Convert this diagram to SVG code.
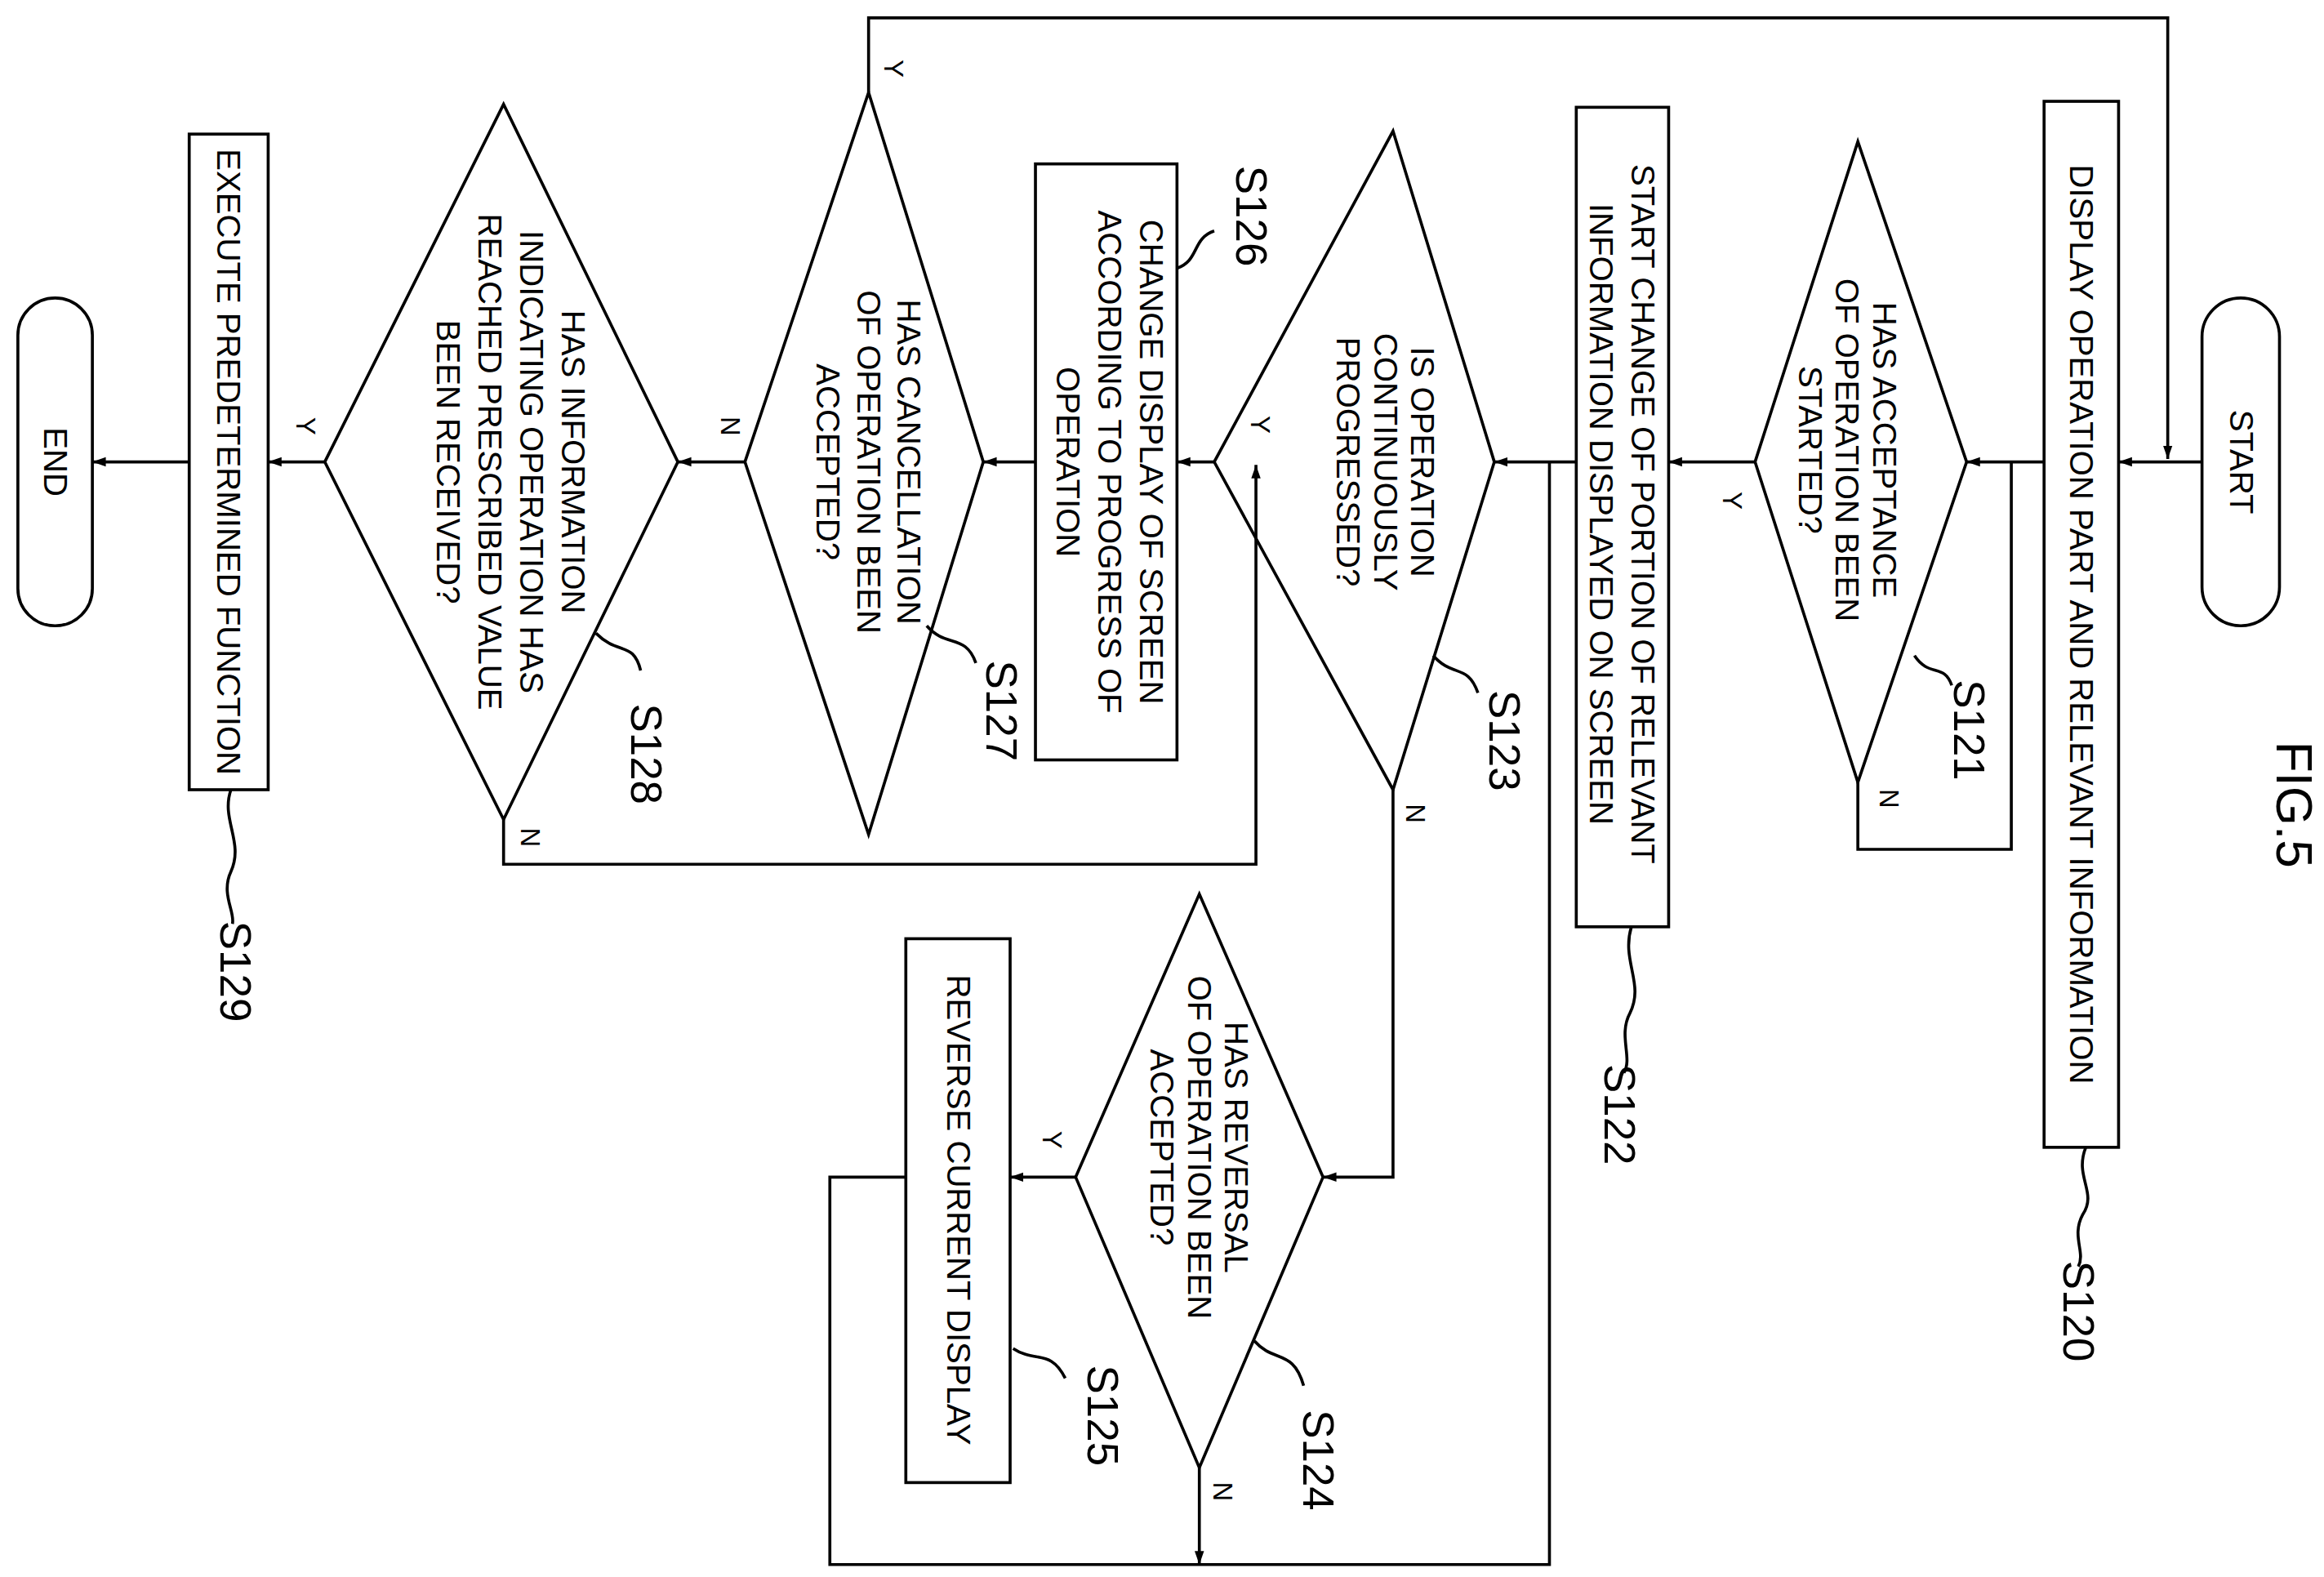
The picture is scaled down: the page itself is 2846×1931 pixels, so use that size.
<svg xmlns="http://www.w3.org/2000/svg" width="2846" height="1931" viewBox="0 0 2846 1931">
<style>
.s{fill:none;stroke:#000;stroke-width:2}
.t{font-family:"Liberation Sans",sans-serif;font-size:22px;text-anchor:middle;dominant-baseline:central}
.l{font-family:"Liberation Sans",sans-serif;font-size:29px;text-anchor:middle;dominant-baseline:central}
.yn{font-family:"Liberation Sans",sans-serif;font-size:18px;text-anchor:middle;dominant-baseline:central}
</style>
<defs><marker id="a" viewBox="0 0 10 10" refX="10" refY="5" markerWidth="9" markerHeight="9" markerUnits="userSpaceOnUse" orient="auto"><path d="M0,1.5 L10,5 L0,8.5z"/></marker></defs>
<rect width="2846" height="1931" fill="#fff"/>
<g transform="scale(1.8245)">
<g id="fig"><text class="l" style="font-size:34px" transform="translate(1540,540) rotate(90)">FIG.5</text></g>
<g id="start"><rect class="s" x="1478" y="200" width="52" height="220" rx="26"/><text class="t" transform="translate(1504,310) rotate(90)">START</text></g>
<g id="S120"><rect class="s" x="1372" y="68" width="50" height="702"/><text class="t" transform="translate(1397,419) rotate(90)">DISPLAY OPERATION PART AND RELEVANT INFORMATION</text>
<path class="s" d="M1400,770 C1392,790 1408,800 1398,815 C1390,830 1400,840 1395,850"/><text class="l" transform="translate(1395,880) rotate(90)">S120</text></g>
<g id="S121"><path class="s" d="M1320,310 L1247,95 L1178,310 L1247,525z"/><text class="t" transform="translate(1240,302) rotate(90)"><tspan x="0" dy="-25">HAS ACCEPTANCE</tspan><tspan x="0" dy="25">OF OPERATION BEEN</tspan><tspan x="0" dy="25">STARTED?</tspan></text>
<path class="s" d="M1285,440 C1295,455 1305,445 1310,460"/><text class="l" transform="translate(1322,490) rotate(90)">S121</text></g>
<g id="S122"><rect class="s" x="1058" y="72" width="62" height="550"/><text class="t" transform="translate(1089,345) rotate(90)"><tspan x="0" dy="-14">START CHANGE OF PORTION OF RELEVANT</tspan><tspan x="0" dy="28">INFORMATION DISPLAYED ON  SCREEN</tspan></text>
<path class="s" d="M1095,622 C1088,645 1104,660 1094,680 C1086,695 1096,710 1090,720"/><text class="l" transform="translate(1087,748) rotate(90)">S122</text></g>
<g id="S123"><path class="s" d="M1003,310 L935,88 L815,310 L935,530z"/><text class="t" transform="translate(930,310) rotate(90)"><tspan x="0" dy="-25">IS OPERATION</tspan><tspan x="0" dy="25">CONTINUOUSLY</tspan><tspan x="0" dy="25">PROGRESSED?</tspan></text>
<path class="s" d="M962,440 C975,455 985,445 992,465"/><text class="l" transform="translate(1010,497) rotate(90)">S123</text></g>
<g id="S124"><path class="s" d="M888,790 L805,600 L722,790 L805,985z"/><text class="t" transform="translate(805,770) rotate(90)"><tspan x="0" dy="-25">HAS REVERSAL</tspan><tspan x="0" dy="25">OF OPERATION BEEN</tspan><tspan x="0" dy="25">ACCEPTED?</tspan></text>
<path class="s" d="M842,900 C855,915 868,905 875,930"/><text class="l" transform="translate(885,980) rotate(90)">S124</text></g>
<g id="S125"><rect class="s" x="608" y="630" width="70" height="365"/><text class="t" transform="translate(643,812) rotate(90)">REVERSE CURRENT DISPLAY</text>
<path class="s" d="M680,905 C695,915 705,905 715,925"/><text class="l" transform="translate(740,950) rotate(90)">S125</text></g>
<g id="S126"><rect class="s" x="695" y="110" width="95" height="400"/><text class="t" transform="translate(745,310) rotate(90)"><tspan x="0" dy="-28">CHANGE DISPLAY OF SCREEN</tspan><tspan x="0" dy="28">ACCORDING TO PROGRESS OF</tspan><tspan x="0" dy="28">OPERATION</tspan></text>
<path class="s" d="M790,180 C805,175 800,160 815,155"/><text class="l" transform="translate(840,145) rotate(90)">S126</text></g>
<g id="S127"><path class="s" d="M660,310 L583,62 L500,310 L583,560z"/><text class="t" transform="translate(583,310) rotate(90)"><tspan x="0" dy="-27">HAS CANCELLATION</tspan><tspan x="0" dy="27">OF OPERATION BEEN</tspan><tspan x="0" dy="27">ACCEPTED?</tspan></text>
<path class="s" d="M622,420 C635,435 648,425 655,445"/><text class="l" transform="translate(672,477) rotate(90)">S127</text></g>
<g id="S128"><path class="s" d="M455,310 L338,70 L218,310 L338,550z"/><text class="t" transform="translate(343,310) rotate(90)"><tspan x="0" dy="-42">HAS INFORMATION</tspan><tspan x="0" dy="28">INDICATING  OPERATION  HAS</tspan><tspan x="0" dy="28">REACHED  PRESCRIBED  VALUE</tspan><tspan x="0" dy="28">BEEN RECEIVED?</tspan></text>
<path class="s" d="M400,425 C415,440 425,430 430,450"/><text class="l" transform="translate(434,506) rotate(90)">S128</text></g>
<g id="S129"><rect class="s" x="127" y="90" width="53" height="440"/><text class="t" transform="translate(153,310) rotate(90)">EXECUTE PREDETERMINED FUNCTION</text>
<path class="s" d="M155,530 C148,550 164,565 155,585 C148,600 158,612 156,620"/><text class="l" transform="translate(158,652) rotate(90)">S129</text></g>
<g id="end"><rect class="s" x="12" y="200" width="50" height="220" rx="25"/><text class="t" transform="translate(37,310) rotate(90)">END</text></g>
<g id="connectors">
<path class="s" d="M1478,310 H1422" marker-end="url(#a)"/>
<path class="s" d="M583,62 V12 H1455 V308" marker-end="url(#a)"/>
<path class="s" d="M1372,310 H1320" marker-end="url(#a)"/>
<path class="s" d="M1247,525 V570 H1350 V310"/>
<path class="s" d="M1178,310 H1120" marker-end="url(#a)"/>
<path class="s" d="M1058,310 H1003" marker-end="url(#a)"/>
<path class="s" d="M935,530 V790 H888" marker-end="url(#a)"/>
<path class="s" d="M722,790 H678" marker-end="url(#a)"/>
<path class="s" d="M805,985 V1050" marker-end="url(#a)"/>
<path class="s" d="M608,790 H557 V1050 H1040 V310"/>
<path class="s" d="M815,310 H790" marker-end="url(#a)"/>
<path class="s" d="M695,310 H660" marker-end="url(#a)"/>
<path class="s" d="M500,310 H455" marker-end="url(#a)"/>
<path class="s" d="M338,550 V580 H843 V312" marker-end="url(#a)"/>
<path class="s" d="M218,310 H180" marker-end="url(#a)"/>
<path class="s" d="M127,310 H62" marker-end="url(#a)"/>
<text class="yn" transform="translate(1268,536) rotate(90)">N</text>
<text class="yn" transform="translate(1163,336) rotate(90)">Y</text>
<text class="yn" transform="translate(950,546) rotate(90)">N</text>
<text class="yn" transform="translate(846,285) rotate(90)">Y</text>
<text class="yn" transform="translate(706,765) rotate(90)">Y</text>
<text class="yn" transform="translate(821,1001) rotate(90)">N</text>
<text class="yn" transform="translate(600,46) rotate(90)">Y</text>
<text class="yn" transform="translate(490,286) rotate(90)">N</text>
<text class="yn" transform="translate(356,562) rotate(90)">N</text>
<text class="yn" transform="translate(205,286) rotate(90)">Y</text>
</g>
</g>
</svg>
